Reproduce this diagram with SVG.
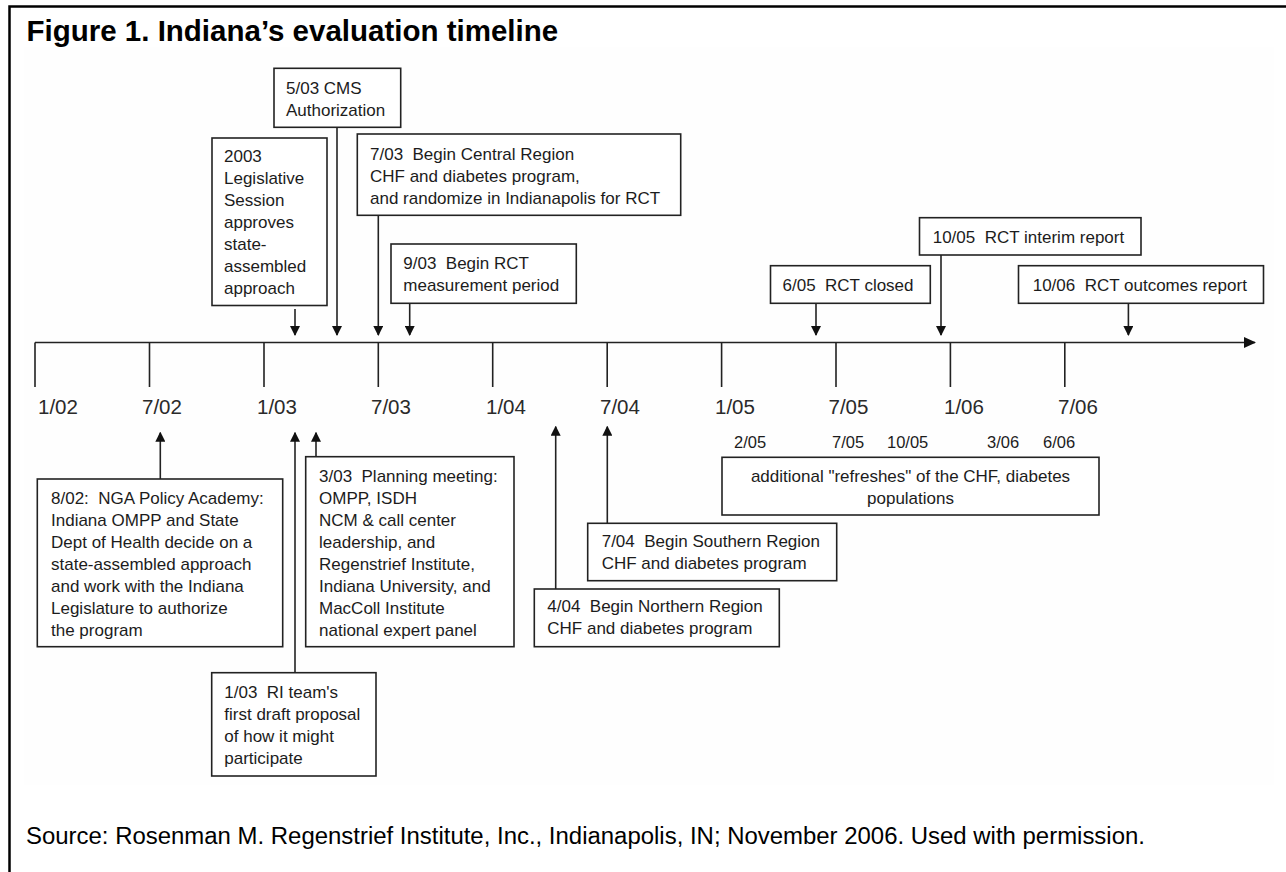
<svg xmlns="http://www.w3.org/2000/svg" width="1286" height="872" viewBox="0 0 1286 872">
<style>
.box{fill:#fff;stroke:#222;stroke-width:1.6}
.t{font-family:"Liberation Sans",Arial,sans-serif;font-size:17px;fill:#1c1c1c}
.tick{font-family:"Liberation Sans",Arial,sans-serif;font-size:20.5px;fill:#2a2a2a}
.sm{font-family:"Liberation Sans",Arial,sans-serif;font-size:16.5px;fill:#1c1c1c}
.ln{stroke:#222;stroke-width:1.6;fill:none}
</style>
<defs>
<marker id="ah" markerUnits="userSpaceOnUse" markerWidth="10" markerHeight="10" refX="9" refY="5" orient="auto" viewBox="0 0 10 10">
<path d="M0,0 L10,5 L0,10 z" fill="#111"/>
</marker>
<marker id="axh" markerUnits="userSpaceOnUse" markerWidth="12" markerHeight="11" refX="11" refY="5.5" orient="auto" viewBox="0 0 12 11">
<path d="M0,0 L12,5.5 L0,11 z" fill="#111"/>
</marker>
</defs>
<rect x="0" y="0" width="1286" height="872" fill="#fff"/>
<rect x="24" y="47" width="1250" height="738" fill="#fefefe"/>
<path d="M9.5,872 V6.5 H1286" fill="none" stroke="#000" stroke-width="2.5"/>
<text x="26.5" y="41" font-family="Liberation Sans,Arial,sans-serif" font-weight="bold" font-size="29.5" fill="#000">Figure 1. Indiana’s evaluation timeline</text>

<g id="axis">
<line class="ln" x1="35" y1="342.5" x2="1255" y2="342.5" marker-end="url(#axh)"/>
<path class="ln" d="M35,342.5V387 M149.5,342.5V387 M264,342.5V387 M378.3,342.5V387 M492.7,342.5V387 M607.2,342.5V387 M721.6,342.5V387 M836,342.5V387 M950.4,342.5V387 M1064.8,342.5V387"/>
<text class="tick" x="38" y="414.3">1/02</text>
<text class="tick" x="142" y="414.3">7/02</text>
<text class="tick" x="257" y="414.3">1/03</text>
<text class="tick" x="371" y="414.3">7/03</text>
<text class="tick" x="486" y="414.3">1/04</text>
<text class="tick" x="600" y="414.3">7/04</text>
<text class="tick" x="715" y="414.3">1/05</text>
<text class="tick" x="828.5" y="414.3">7/05</text>
<text class="tick" x="944" y="414.3">1/06</text>
<text class="tick" x="1058" y="414.3">7/06</text>
</g>

<g id="connectors">
<line class="ln" x1="295" y1="309" x2="295" y2="335" marker-end="url(#ah)"/>
<line class="ln" x1="337" y1="127.3" x2="337" y2="335" marker-end="url(#ah)"/>
<line class="ln" x1="378.3" y1="215.3" x2="378.3" y2="335" marker-end="url(#ah)"/>
<line class="ln" x1="409.7" y1="303.3" x2="409.7" y2="335" marker-end="url(#ah)"/>
<line class="ln" x1="816" y1="303.3" x2="816" y2="335" marker-end="url(#ah)"/>
<line class="ln" x1="941" y1="255" x2="941" y2="335" marker-end="url(#ah)"/>
<line class="ln" x1="1128.4" y1="303.3" x2="1128.4" y2="335" marker-end="url(#ah)"/>
<line class="ln" x1="160.3" y1="479" x2="160.3" y2="432.7" marker-end="url(#ah)"/>
<line class="ln" x1="295" y1="672.7" x2="295" y2="432.7" marker-end="url(#ah)"/>
<line class="ln" x1="316" y1="456.7" x2="316" y2="432.7" marker-end="url(#ah)"/>
<line class="ln" x1="555.7" y1="589" x2="555.7" y2="426.7" marker-end="url(#ah)"/>
<line class="ln" x1="607.3" y1="523.3" x2="607.3" y2="426.7" marker-end="url(#ah)"/>
</g>

<g id="n-0503">
<rect class="box" x="274" y="68.3" width="126.7" height="59"/>
<text class="t" x="286" y="93.5">5/03 CMS</text>
<text class="t" x="286" y="115.5">Authorization</text>
</g>

<g id="n-2003">
<rect class="box" x="212" y="138" width="115" height="167.5"/>
<text class="t" x="224" y="162">2003</text>
<text class="t" x="224" y="184">Legislative</text>
<text class="t" x="224" y="206">Session</text>
<text class="t" x="224" y="228">approves</text>
<text class="t" x="224" y="250">state-</text>
<text class="t" x="224" y="272">assembled</text>
<text class="t" x="224" y="294">approach</text>
</g>

<g id="n-0703">
<rect class="box" x="357.3" y="134" width="323.4" height="81.3"/>
<text class="t" x="370" y="159.5">7/03&#160; Begin Central Region</text>
<text class="t" x="370" y="181.5">CHF and diabetes program,</text>
<text class="t" x="370" y="203.5">and randomize in Indianapolis for RCT</text>
</g>

<g id="n-0903">
<rect class="box" x="391" y="244" width="185.3" height="59.3"/>
<text class="t" x="403.3" y="269">9/03&#160; Begin RCT</text>
<text class="t" x="403.3" y="291">measurement period</text>
</g>

<g id="n-0605">
<rect class="box" x="770.5" y="265.7" width="159.8" height="37.6"/>
<text class="t" x="782.5" y="291">6/05&#160; RCT closed</text>
</g>

<g id="n-1005">
<rect class="box" x="919.5" y="217.7" width="221.5" height="37.3"/>
<text class="t" x="932.7" y="243.3">10/05&#160; RCT interim report</text>
</g>

<g id="n-1006">
<rect class="box" x="1018.5" y="265.7" width="245" height="37.6"/>
<text class="t" x="1032.7" y="291">10/06&#160; RCT outcomes report</text>
</g>

<g id="n-0802">
<rect class="box" x="37.3" y="479" width="245.4" height="167.7"/>
<text class="t" x="51" y="503.5">8/02:&#160; NGA Policy Academy:</text>
<text class="t" x="51" y="525.5">Indiana OMPP and State</text>
<text class="t" x="51" y="547.5">Dept of Health decide on a</text>
<text class="t" x="51" y="569.5">state-assembled approach</text>
<text class="t" x="51" y="591.5">and work with the Indiana</text>
<text class="t" x="51" y="613.5">Legislature to authorize</text>
<text class="t" x="51" y="635.5">the program</text>
</g>

<g id="n-0303">
<rect class="box" x="305.7" y="456.7" width="208.3" height="190"/>
<text class="t" x="319" y="481.5">3/03&#160; Planning meeting:</text>
<text class="t" x="319" y="503.5">OMPP, ISDH</text>
<text class="t" x="319" y="525.5">NCM &amp; call center</text>
<text class="t" x="319" y="547.5">leadership, and</text>
<text class="t" x="319" y="569.5">Regenstrief Institute,</text>
<text class="t" x="319" y="591.5">Indiana University, and</text>
<text class="t" x="319" y="613.5">MacColl Institute</text>
<text class="t" x="319" y="635.5">national expert panel</text>
</g>

<g id="n-0103">
<rect class="box" x="211.7" y="672.7" width="164.3" height="103.3"/>
<text class="t" x="224.3" y="697.5">1/03&#160; RI team's</text>
<text class="t" x="224.3" y="719.5">first draft proposal</text>
<text class="t" x="224.3" y="741.5">of how it might</text>
<text class="t" x="224.3" y="763.5">participate</text>
</g>

<g id="n-0704">
<rect class="box" x="587.7" y="523.3" width="249" height="57.4"/>
<text class="t" x="601.7" y="546.7">7/04&#160; Begin Southern Region</text>
<text class="t" x="601.7" y="568.5">CHF and diabetes program</text>
</g>

<g id="n-0404">
<rect class="box" x="534.3" y="589" width="245" height="57.7"/>
<text class="t" x="547.3" y="612.3">4/04&#160; Begin Northern Region</text>
<text class="t" x="547.3" y="634">CHF and diabetes program</text>
</g>

<g id="n-refresh">
<text class="sm" x="734" y="448.3">2/05</text>
<text class="sm" x="832" y="448.3">7/05</text>
<text class="sm" x="887" y="448.3">10/05</text>
<text class="sm" x="987" y="448.3">3/06</text>
<text class="sm" x="1043" y="448.3">6/06</text>
<rect class="box" x="722" y="457.3" width="377" height="57.7"/>
<text class="t" x="910.5" y="482" text-anchor="middle">additional "refreshes" of the CHF, diabetes</text>
<text class="t" x="910.5" y="504" text-anchor="middle">populations</text>
</g>

<text x="26" y="844" font-family="Liberation Sans,Arial,sans-serif" font-size="23.95" fill="#000">Source: Rosenman M. Regenstrief Institute, Inc., Indianapolis, IN; November 2006. Used with permission.</text>
</svg>
